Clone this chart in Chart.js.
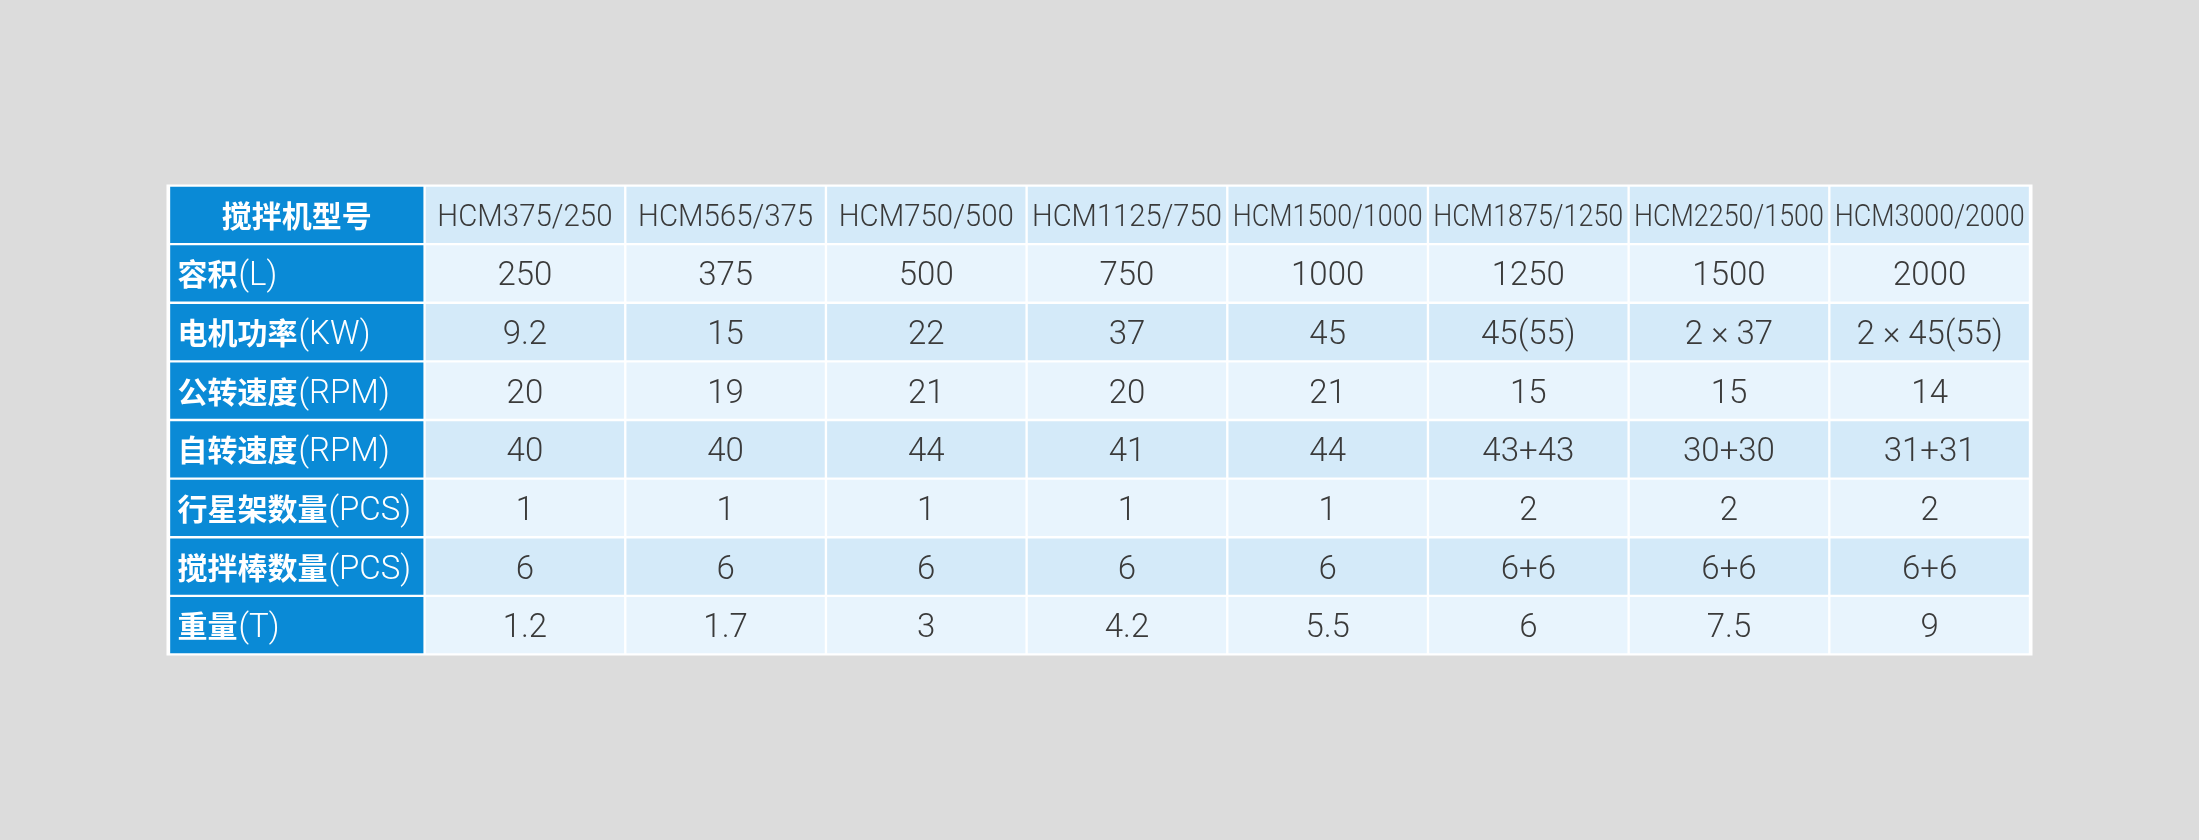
<!DOCTYPE html>
<html>
<head>
<meta charset="utf-8">
<script src="https://cdn.jsdelivr.net/npm/chart.js@4.4.1/dist/chart.umd.min.js"></script>
<style>
  html, body { margin: 0; padding: 0; background: #dcdcdc; }
  #wrap { width: 2199px; height: 840px; position: relative; }
</style>
</head>
<body>
<div id="wrap"><canvas id="c"></canvas></div>
<script>
// ---------- DATA ----------
const headerLabel = '搅拌机型号';
const models = ['HCM375/250', 'HCM565/375', 'HCM750/500', 'HCM1125/750', 'HCM1500/1000', 'HCM1875/1250', 'HCM2250/1500', 'HCM3000/2000'];
const rowNames = ['容积', '电机功率', '公转速度', '自转速度', '行星架数量', '搅拌棒数量', '重量'];
const rowUnits = ['(L)', '(KW)', '(RPM)', '(RPM)', '(PCS)', '(PCS)', '(T)'];
const capacity = ['250', '375', '500', '750', '1000', '1250', '1500', '2000'];
const motorPower = ['9.2', '15', '22', '37', '45', '45(55)', '2 × 37', '2 × 45(55)'];
const revolutionSpeed = ['20', '19', '21', '20', '21', '15', '15', '14'];
const rotationSpeed = ['40', '40', '44', '41', '44', '43+43', '30+30', '31+31'];
const planetaryCount = ['1', '1', '1', '1', '1', '2', '2', '2'];
const paddleCount = ['6', '6', '6', '6', '6', '6+6', '6+6', '6+6'];
const weight = ['1.2', '1.7', '3', '4.2', '5.5', '6', '7.5', '9'];

// ---------- STRUCTURE ----------
const tableRows = [models, capacity, motorPower, revolutionSpeed, rotationSpeed, planetaryCount, paddleCount, weight];
const rowCategories = [headerLabel].concat(rowNames.map((n, i) => n + rowUnits[i]));

// layout constants (in column units)
const LABEL_W = 1.2736;
const EDGE = 0.0075;

const BLUE = '#0a8ad6';
const DARK = '#d4eaf9';
const LIGHT = '#e8f4fd';
const TEXT = '#3a3a3a';

function rowColor(i) { return (i % 2 === 0) ? DARK : LIGHT; }

const datasets = [];
datasets.push({
  label: 'labels',
  data: rowCategories.map(() => [0, LABEL_W]),
  texts: rowCategories,
  backgroundColor: BLUE,
  kind: 'label'
});
models.forEach((m, j) => {
  datasets.push({
    label: m,
    data: rowCategories.map(() => [LABEL_W + j, LABEL_W + j + 1]),
    texts: tableRows.map(r => r[j]),
    backgroundColor: (ctx) => rowColor(ctx.dataIndex),
    kind: 'data'
  });
});
datasets.forEach(d => {
  d.borderColor = '#ffffff';
  d.borderWidth = 1.5;
  d.borderSkipped = false;
  d.barPercentage = 1;
  d.categoryPercentage = 1;
  d.grouped = false;
});

const CJK_BOLD = "700 30px 'Noto Sans CJK SC'";
const UNIT_FONT = "300 33px Roboto";
const LIGHT_FONT = "300 33px Roboto";
const MODEL_FONT = "300 32px Roboto";

const bgPlugin = {
  id: 'tableBg',
  beforeDatasetsDraw(chart) {
    const a = chart.chartArea, ctx = chart.ctx;
    ctx.save();
    ctx.fillStyle = '#ffffff';
    ctx.fillRect(a.left - 1, a.top - 1, a.right - a.left + 2, a.bottom - a.top + 2);
    ctx.restore();
  }
};

const textPlugin = {
  id: 'cellText',
  afterDatasetsDraw(chart) {
    const ctx = chart.ctx;
    chart.data.datasets.forEach((ds, di) => {
      const meta = chart.getDatasetMeta(di);
      meta.data.forEach((el, ri) => {
        const left = Math.min(el.x, el.base), right = Math.max(el.x, el.base);
        const cx = (left + right) / 2;
        const by = el.y + 12;
        ctx.save();
        ctx.textBaseline = 'alphabetic';
        if (ds.kind === 'label') {
          ctx.fillStyle = '#ffffff';
          if (ri === 0) {
            ctx.font = CJK_BOLD;
            ctx.textAlign = 'center';
            ctx.fillText(headerLabel, cx, by);
          } else {
            let x = left + 8.5;
            ctx.textAlign = 'left';
            ctx.font = CJK_BOLD;
            const name = rowNames[ri - 1];
            ctx.fillText(name, x, by);
            x += ctx.measureText(name).width + 1;
            ctx.font = UNIT_FONT;
            ctx.fillText(rowUnits[ri - 1], x, by);
          }
        } else {
          ctx.fillStyle = TEXT;
          ctx.textAlign = 'center';
          const t = ds.texts[ri];
          if (ri === 0) {
            ctx.font = MODEL_FONT;
            const w = ctx.measureText(t).width;
            const sx = Math.min(0.92, 190 / w);
            ctx.translate(cx, by - 0.5);
            ctx.scale(sx, 1);
            ctx.fillText(t, 0, 0);
          } else {
            ctx.font = LIGHT_FONT;
            ctx.fillText(t, cx, by);
          }
        }
        ctx.restore();
      });
    });
  }
};

function build() {
  new Chart(document.getElementById('c'), {
    type: 'bar',
    data: { labels: rowCategories, datasets: datasets },
    options: {
      indexAxis: 'y',
      responsive: true,
      maintainAspectRatio: false,
      animation: false,
      events: [],
      layout: { padding: { left: 167.5, right: 167.5, top: 185.5, bottom: 185.5 } },
      plugins: { legend: { display: false }, tooltip: { enabled: false } },
      scales: {
        x: { type: 'linear', min: -EDGE, max: LABEL_W + models.length + EDGE, display: false, grid: { display: false } },
        y: { type: 'category', display: false, offset: true, grid: { display: false } }
      }
    },
    plugins: [bgPlugin, textPlugin]
  });
}

Promise.all([
  document.fonts.load(CJK_BOLD, '搅拌机型号容积'),
  document.fonts.load(LIGHT_FONT, 'HCM0123456789'),
  document.fonts.load(MODEL_FONT, 'HCM0123456789')
]).then(build, build);
</script>
</body>
</html>
